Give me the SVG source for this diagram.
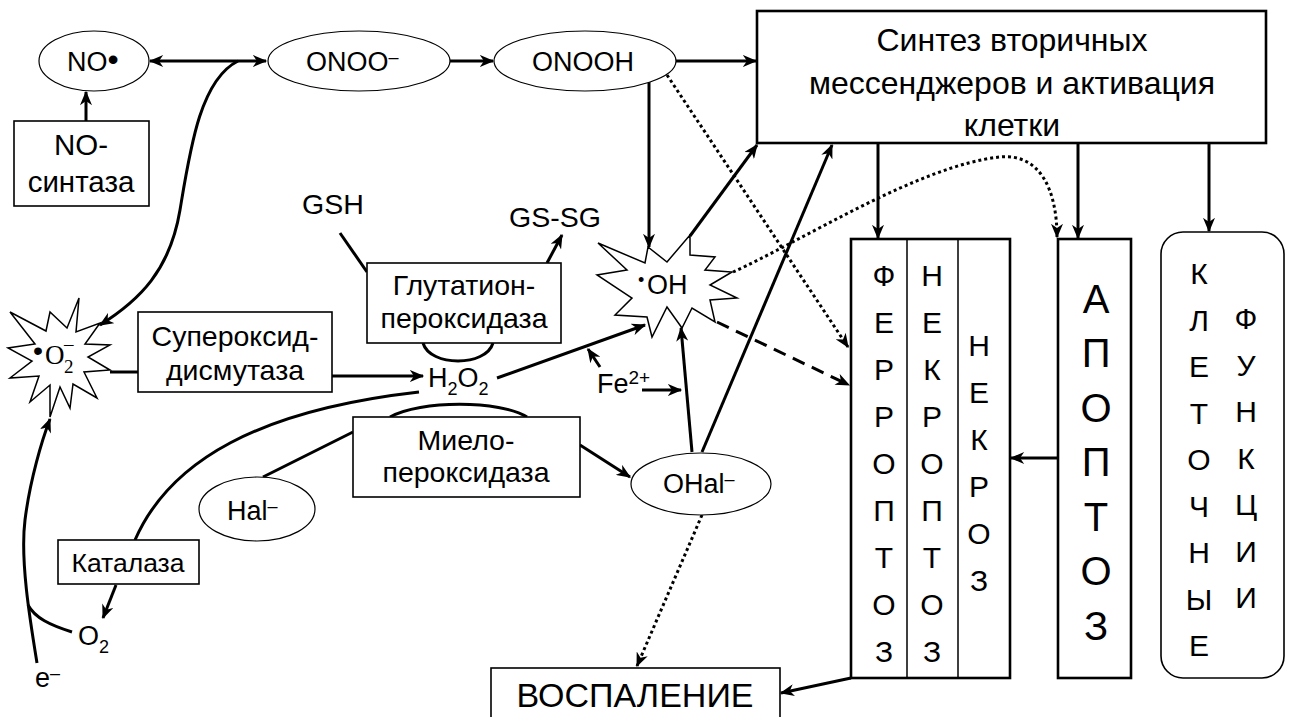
<svg xmlns="http://www.w3.org/2000/svg" width="1291" height="717" viewBox="0 0 1291 717">
<defs>
<style>
.t{font-family:"Liberation Sans",Arial,sans-serif;fill:#000;font-size:27px}
.s{font-family:"Liberation Serif","Times New Roman",serif;fill:#000}
.m{text-anchor:middle}
.box{fill:#fff;stroke:#000;stroke-width:1.6}
.bbox{fill:#fff;stroke:#000;stroke-width:2.6}
.ell{fill:#fff;stroke:#000;stroke-width:1.2}
.star{fill:#fff;stroke:#000;stroke-width:1.5;stroke-linejoin:miter}
.c{fill:none;stroke:#000;stroke-width:3}
.a{marker-end:url(#ah)}
.dot{stroke-dasharray:3 3}
.dash{stroke-dasharray:13 8}
.col{font-size:30px}
.big{font-size:40px}
.sup{font-size:18px}
.f32{font-size:32px}
.f34{font-size:34px}
.f26{font-size:26.5px}
.f28{font-size:28.5px}
.f29{font-size:29.5px}
.f18{font-size:18px}
</style>
<marker id="ah" viewBox="0 0 12 10" refX="11" refY="5" markerWidth="15" markerHeight="12" markerUnits="userSpaceOnUse" orient="auto-start-reverse"><path d="M0,0 L12,5 L0,10 L3.5,5 z"/></marker>
</defs>
<rect width="1291" height="717" fill="#fff"/>

<g id="connectors">
<path class="c a" d="M150,61 L266,61" marker-start="url(#ah)"/>
<path class="c a" d="M238,61 C200,80 190,150 180,210 C170,270 140,300 100,325"/>
<path class="c a" d="M86,121 L86,92"/>
<path class="c a" d="M450,61 L493,61"/>
<path class="c a" d="M675,61 L756,61"/>
<path class="c a" d="M649,82 L649,247"/>
<path class="c a dot" d="M667,75 L848,347"/>
<path class="c a" d="M690,236 L757,145"/>
<path class="c a" d="M702,452 L832,145"/>
<path class="c a" d="M692,452 L681,328"/>
<path class="c a" d="M642,390 L681,390"/>
<path class="c a" d="M600,367 L588,349"/>
<path class="c a" d="M497,378 L645,325"/>
<path class="c a dash" d="M717,322 L849,385"/>
<path class="c a dot" d="M733,272 C800,242 920,165 1000,157 C1040,153 1057,190 1057,237"/>
<path class="c a" d="M878,143 L878,238"/>
<path class="c a" d="M1078,143 L1078,238"/>
<path class="c a" d="M1209,143 L1209,231"/>
<path class="c a" d="M1058,458 L1011,458"/>
<path class="c a" d="M851,678 L781,693"/>
<path class="c a dot" d="M702,515 L637,666"/>
<path class="c a" d="M580,445 L630,477"/>
<path class="c" d="M110,372 L138,372"/>
<path class="c a" d="M332,376 L423,376"/>
<path class="c" d="M340,233 L367,272"/>
<path class="c" d="M423,343 C430,367 486,367 493,343"/>
<path class="c a" d="M547,263 L562,235"/>
<path class="c" d="M390,417 C420,400 500,400 527,417"/>
<path class="c" d="M263,477 L353,432"/>
<path class="c" d="M419,392 C260,410 170,460 135,540"/>
<path class="c a" d="M116,585 L103,618"/>
<path class="c a" d="M37,663 C30,620 20,560 25,520 C30,480 42,440 50,419"/>
<path class="c" d="M72,632 C50,625 35,618 28,605"/>
</g>

<g id="no">
<ellipse class="ell" cx="94" cy="61" rx="55" ry="30"/>
<text class="t" x="67" y="71">NO<tspan class="f32" dy="-1">•</tspan></text>
</g>
<g id="onoo">
<ellipse class="ell" cx="359" cy="61" rx="91" ry="30"/>
<text class="t" x="306" y="71">ONOO<tspan class="sup" dy="-8">–</tspan></text>
</g>
<g id="onooh">
<ellipse class="ell" cx="585" cy="61" rx="91" ry="30"/>
<text class="t m" x="583" y="71">ONOOH</text>
</g>
<g id="nos">
<rect class="box" x="14" y="121" width="135" height="85"/>
<text class="t m f29" x="81" y="155">NO-</text>
<text class="t m f29" x="81" y="192">синтаза</text>
</g>
<g id="synth">
<rect class="bbox" x="757" y="11" width="509" height="132"/>
<text class="t m f32" x="1012" y="51">Синтез вторичных</text>
<text class="t m f32" x="1012" y="94">мессенджеров и активация</text>
<text class="t m f32" x="1012" y="136">клетки</text>
</g>
<g id="superoxide">
<polygon class="star" points="79,298 76,332 100,323 85,344 110,345 88,357 110,370 84,372 97,398 73,384 70,408 60,387 50,417 50,385 30,402 39,376 10,378 32,361 8,348 35,344 10,312 46,331 50,312 67,328"/>
<text class="t f28" x="33" y="360">•</text>
<text class="s" x="45" y="364" font-size="27">O</text>
<text class="s" x="64" y="373" font-size="19">2</text>
<text class="s" x="64" y="350" font-size="19">–</text>
</g>
<g id="sod">
<rect class="box" x="138" y="312" width="194" height="80"/>
<text class="t m f28" x="235" y="346">Супероксид-</text>
<text class="t m f28" x="235" y="380">дисмутаза</text>
</g>
<g id="gsh"><text class="t f28" x="302" y="214">GSH</text></g>
<g id="gssg"><text class="t f28" x="509" y="227">GS-SG</text></g>
<g id="gpx">
<rect class="box" x="367" y="263" width="194" height="80"/>
<text class="t m f28" x="464" y="295">Глутатион-</text>
<text class="t m f28" x="464" y="328">пероксидаза</text>
</g>
<g id="h2o2"><text class="t" x="428" y="387">H<tspan class="sup" dy="8">2</tspan><tspan dy="-8">O</tspan><tspan class="sup" dy="8">2</tspan></text></g>
<g id="oh">
<polygon class="star" points="598,243 645,263 648,247 667,262 690,235 690,255 715,257 705,270 732,272 710,285 737,298 710,300 715,322 692,308 682,328 667,307 652,337 647,317 615,315 632,298 597,275 627,270"/>
<text class="t f18" x="638" y="286">•</text>
<text class="t" x="647" y="294">OH</text>
</g>
<g id="fe"><text class="t" x="597" y="393">Fe<tspan font-size="19" dy="-9">2+</tspan></text></g>
<g id="mpo">
<rect class="box" x="353" y="417" width="227" height="80"/>
<text class="t m f28" x="466" y="450">Миело-</text>
<text class="t m f28" x="466" y="482">пероксидаза</text>
</g>
<g id="hal">
<ellipse class="ell" cx="257" cy="509" rx="58" ry="32"/>
<text class="t" x="227" y="520">Hal<tspan class="sup" dy="-8">–</tspan></text>
</g>
<g id="ohal">
<ellipse class="ell" cx="701" cy="484" rx="70" ry="31"/>
<text class="t" x="663" y="493">OHal<tspan class="sup" dy="-8">–</tspan></text>
</g>
<g id="catalase">
<rect class="box" x="58" y="540" width="141" height="44"/>
<text class="t m f26" x="128" y="572">Каталаза</text>
</g>
<g id="o2"><text class="t" x="78" y="645">O<tspan class="sup" dy="8">2</tspan></text></g>
<g id="e"><text class="t" x="35" y="687">e<tspan class="sup" dy="-8">–</tspan></text></g>
<g id="inflammation">
<rect class="box" x="491" y="668" width="289" height="60"/>
<text class="t m f34" x="635" y="707">ВОСПАЛЕНИЕ</text>
</g>
<g id="death">
<rect class="bbox" x="851" y="239" width="159" height="439"/>
<path d="M907,239 V678 M958,239 V678" stroke="#000" stroke-width="1.5"/>
<text class="t m col" x="884"><tspan x="884" y="286">Ф</tspan><tspan x="884" y="333">Е</tspan><tspan x="884" y="380">Р</tspan><tspan x="884" y="427">Р</tspan><tspan x="884" y="474">О</tspan><tspan x="884" y="521">П</tspan><tspan x="884" y="568">Т</tspan><tspan x="884" y="615">О</tspan><tspan x="884" y="662">З</tspan></text>
<text class="t m col" x="932"><tspan x="932" y="286">Н</tspan><tspan x="932" y="333">Е</tspan><tspan x="932" y="380">К</tspan><tspan x="932" y="427">Р</tspan><tspan x="932" y="474">О</tspan><tspan x="932" y="521">П</tspan><tspan x="932" y="568">Т</tspan><tspan x="932" y="615">О</tspan><tspan x="932" y="662">З</tspan></text>
<text class="t m col" x="979"><tspan x="979" y="356">Н</tspan><tspan x="979" y="403">Е</tspan><tspan x="979" y="450">К</tspan><tspan x="979" y="497">Р</tspan><tspan x="979" y="544">О</tspan><tspan x="979" y="591">З</tspan></text>
</g>
<g id="apoptosis">
<rect class="bbox" x="1058" y="239" width="73" height="439"/>
<text class="t m big" x="1096"><tspan x="1096" y="313">А</tspan><tspan x="1096" y="367">П</tspan><tspan x="1096" y="422">О</tspan><tspan x="1096" y="476">П</tspan><tspan x="1096" y="531">Т</tspan><tspan x="1096" y="585">О</tspan><tspan x="1096" y="640">З</tspan></text>
</g>
<g id="functions">
<rect class="box" x="1161" y="232" width="123" height="446" rx="22"/>
<text class="t m col" x="1199"><tspan x="1199" y="284">К</tspan><tspan x="1199" y="331">Л</tspan><tspan x="1199" y="377">Е</tspan><tspan x="1199" y="424">Т</tspan><tspan x="1199" y="470">О</tspan><tspan x="1199" y="517">Ч</tspan><tspan x="1199" y="563">Н</tspan><tspan x="1199" y="610">Ы</tspan><tspan x="1199" y="656">Е</tspan></text>
<text class="t m col" x="1246"><tspan x="1246" y="329">Ф</tspan><tspan x="1246" y="376">У</tspan><tspan x="1246" y="422">Н</tspan><tspan x="1246" y="469">К</tspan><tspan x="1246" y="515">Ц</tspan><tspan x="1246" y="562">И</tspan><tspan x="1246" y="608">И</tspan></text>
</g>
</svg>
